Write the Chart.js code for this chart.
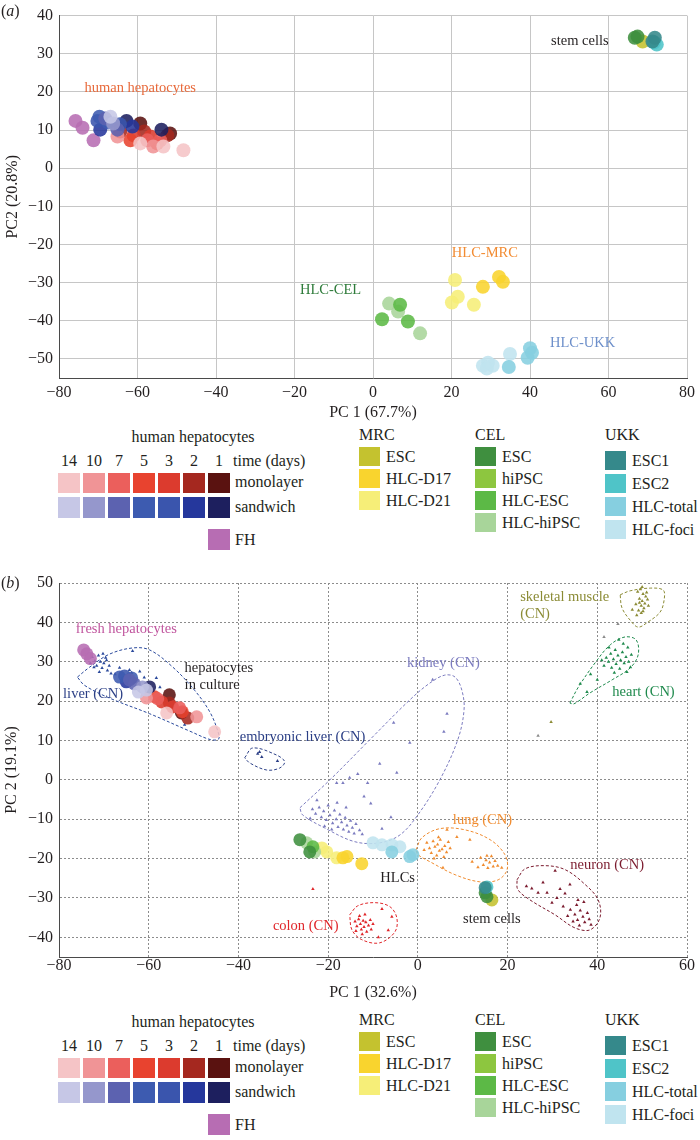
<!DOCTYPE html>
<html><head><meta charset="utf-8">
<script src="https://cdn.jsdelivr.net/npm/chart.js@4.4.0/dist/chart.umd.min.js"></script>
<style>
html,body{margin:0;padding:0;background:#fff;}
#wrap{position:relative;width:700px;height:1140px;overflow:hidden;font-family:"Liberation Serif","Times New Roman",serif;color:#231f20;}
.cv{position:absolute;left:0;}
.t{position:absolute;font-size:16px;line-height:16px;white-space:nowrap;}
.sw{position:absolute;}
</style></head><body><div id="wrap">
<div class="cv" style="top:0px"><canvas id="ca" width="700" height="422"></canvas></div>
<div class="cv" style="top:565px"><canvas id="cb" width="700" height="437"></canvas></div>
</div>
<script>
// ---------------- legend categories ----------------
const dayLabels = ['14','10','7','5','3','2','1'];
const monoColors = ['#f5c4c6','#f09496','#eb5f5c','#e8432f','#dc3b2e','#a5281f','#5a1210'];
const sandColors = ['#c6c7e6','#9597cc','#5c62b0','#3d5bb0','#3a55ad','#25379c','#1d1f5e'];
const fhColor = '#b76db3';
const mrcLabels = ['ESC','HLC-D17','HLC-D21'];
const mrcColors = ['#c4c22f','#f9d42e','#f6ee78'];
const celLabels = ['ESC','hiPSC','HLC-ESC','HLC-hiPSC'];
const celColors = ['#3f8f3f','#8dc63f','#5cb946','#a8d59a'];
const ukkLabels = ['ESC1','ESC2','HLC-total','HLC-foci'];
const ukkColors = ['#35898b','#4fc4c8','#86cfe0','#c0e4ef'];

// ---------------- panel (a) values ----------------
const a_FH = [[-75.8,12.4],[-74.0,10.6],[-71.2,7.3]];
const a_mono = [ // days 14,10,7,5,3,2,1
  [[-59.3,6.5],[-53.4,5.7],[-48.3,4.7]],
  [[-65.1,8.3],[-56.0,5.7]],
  [[-57.5,7.3],[-54.2,7.3]],
  [[-61.8,7.3],[-55.0,6.5]],
  [[-56.7,8.3],[-61.0,8.6]],
  [[-58.3,9.6],[-64.4,9.6],[-52.4,8.6]],
  [[-59.3,11.7],[-51.7,9.1]]
];
const a_sand = [
  [[-66.9,13.5]],
  [[-66.2,11.7]],
  [[-68.2,13.0],[-65.1,10.1]],
  [[-69.7,13.5],[-67.5,12.0]],
  [[-70.2,12.4],[-64.5,11.5]],
  [[-69.5,10.1],[-61.3,10.9]],
  [[-62.8,12.4],[-53.9,10.1]]
];
const a_mrc = [
  [[68.7,33.2]],
  [[28.0,-31.1],[32.1,-28.5],[33.1,-29.8]],
  [[20.9,-29.3],[21.6,-33.7],[20.1,-35.2],[25.7,-35.8]]
];
const a_cel = [
  [[66.7,34.2],[67.4,34.5]],
  [],
  [[6.9,-35.8],[2.3,-39.6],[8.9,-40.2]],
  [[4.1,-35.5],[6.4,-37.6],[12.0,-43.3]]
];
const a_ukk = [
  [[71.8,34.2],[71.2,33.2]],
  [[72.3,32.4],[71.6,33.0]],
  [[34.6,-52.1],[40.0,-47.2],[39.4,-49.7],[40.5,-48.4]],
  [[29.3,-51.0],[30.5,-51.8],[28.0,-51.8],[34.9,-48.7],[29.0,-52.5]]
];

// ---------------- panel (b) values ----------------
const b_FH = [[-74.5,33.0],[-73.8,32.0],[-73.0,30.8]];
const b_mono = [
  [[-56.0,17.0],[-45.3,12.2]],
  [[-60.5,20.8],[-49.3,16.0]],
  [[-53.1,18.3],[-58.0,20.6]],
  [[-58.7,21.1],[-52.5,17.3]],
  [[-57.1,19.8],[-54.7,18.5]],
  [[-55.4,19.5],[-51.3,15.7]],
  [[-55.4,21.6],[-52.7,17.0]]
];
const b_sand = [
  [[-62.3,22.3],[-60.5,22.8]],
  [[-61.4,23.6]],
  [[-64.3,25.4],[-63.2,24.4]],
  [[-66.5,26.1],[-63.8,25.9]],
  [[-65.4,26.4]],
  [[-65.0,24.9]],
  [[-59.8,23.6]]
];
const b_mrc = [
  [[16.5,-30.5]],
  [[-15.8,-19.5],[-12.5,-21.3],[-16.7,-19.8]],
  [[-21.4,-17.3],[-20.3,-18.3],[-18.1,-19.8]]
];
const b_cel = [
  [[-26.3,-15.2],[-24.1,-18.3],[15.0,-28.7],[15.4,-29.7]],
  [],
  [[-23.4,-17.0]],
  [[-24.8,-16.0],[-23.0,-18.3]]
];
const b_ukk = [
  [[15.0,-27.4]],
  [[15.4,-27.2]],
  [[-5.8,-18.3],[-1.8,-19.5],[-1.1,-19.0]],
  [[-10.0,-16.0],[-8.0,-16.5],[-5.8,-16.5],[-4.0,-17.0]]
];

// CN reference samples (small triangles)
const cnLiver = [[-72.6,31.2],[-72.0,30.2],[-71.6,29.0],[-71.2,31.6],[-70.8,30.0],[-70.4,28.4],[-70.0,29.6],[-69.6,31.0],[-69.2,27.8],[-68.8,29.0],[-71.0,27.4],[-72.2,28.6],[-70.2,32.0],[-69.4,30.4],[-68.4,27.0],[-73.0,29.6],[-64.3,27.9],[-63.8,27.2],[-63.6,32.7],[-58.3,25.9],[-52.0,14.0],[-62.0,27.5],[-61.0,26.0],[-66.5,28.5],[-67.5,26.8],[-57.5,23.5]];
const cnEmbLiver = [[-35.3,7.1],[-35.7,6.6],[-34.8,5.8],[-31.3,4.8]];
const cnKidney = [[-23.5,-7.5],[-22.8,-8.6],[-22.0,-7.0],[-21.5,-9.5],[-21.0,-8.0],[-20.4,-10.2],[-20.0,-6.5],[-19.6,-9.0],[-19.0,-11.0],[-18.6,-7.8],[-18.2,-10.0],[-17.8,-12.0],[-17.4,-8.8],[-17.0,-10.8],[-16.6,-12.6],[-16.2,-9.6],[-15.8,-11.6],[-15.4,-13.2],[-15.0,-10.4],[-14.6,-12.2],[-14.2,-13.6],[-13.8,-11.2],[-13.0,-12.8],[-12.4,-13.8],[-22.5,-5.2],[-24.0,-9.8],[-18.0,-5.8],[-16.0,-7.0],[-20.8,-11.8],[-19.2,-12.6],[-18.1,-0.8],[-16.7,-0.8],[-15.2,0.5],[-13.4,1.5],[-11.2,-0.8],[-8.5,4.1],[-4.7,1.8],[-1.8,9.4],[-5.4,14.5],[3.3,25.4],[6.5,16.8],[5.8,12.2],[-8.0,-12.4],[-10.5,-6.0],[-12.0,-4.2],[-6.0,-9.5]];
const cnHeart = [[41.5,29.0],[42.0,31.0],[42.5,30.0],[43.0,32.0],[43.2,28.5],[43.6,30.6],[44.0,33.0],[44.2,29.4],[44.6,31.6],[45.0,28.2],[45.2,30.4],[45.6,32.4],[46.0,29.6],[46.4,31.2],[46.8,33.6],[47.0,30.0],[47.4,28.6],[43.8,27.2],[42.6,33.6],[45.8,34.6],[46.6,27.4],[41.0,30.4],[44.8,35.6],[47.6,31.8],[36.2,24.4],[37.7,22.3],[40.0,25.4],[38.5,26.8]];
const cnMuscle = [[49.0,47.8],[49.6,48.4],[50.2,47.2],[50.8,46.6],[49.4,46.0],[50.0,45.4],[50.6,44.8],[51.2,45.8],[49.8,44.2],[50.4,43.6],[49.2,43.0],[49.8,42.4],[48.8,41.8],[50.2,42.8],[51.0,47.6],[48.6,44.6],[47.8,43.2],[50.0,49.0],[51.4,44.2],[49.4,45.0],[29.7,14.7]];
const cnLung = [[2.0,-16.0],[2.6,-17.4],[3.0,-18.6],[3.4,-15.6],[3.8,-17.0],[4.2,-19.2],[4.4,-16.4],[4.8,-18.0],[5.0,-15.2],[5.4,-17.6],[5.8,-19.6],[6.0,-16.8],[6.4,-18.4],[6.8,-15.8],[7.2,-17.4],[3.6,-20.0],[1.4,-17.8],[4.6,-14.6],[6.5,-12.7],[8.7,-14.5],[11.6,-15.2],[5.6,-22.3],[12.1,-20.8],[14.0,-19.8],[14.6,-21.6],[15.2,-20.4],[15.6,-22.4],[16.0,-21.0],[16.4,-19.4],[16.8,-22.0],[17.2,-20.6],[17.8,-21.8],[18.7,-22.3],[15.4,-19.3],[13.4,-22.2]];
const cnColon = [[-14.0,-36.0],[-13.6,-37.2],[-13.2,-35.4],[-12.8,-36.6],[-12.6,-38.0],[-12.2,-35.8],[-12.0,-37.4],[-11.6,-36.2],[-11.4,-38.6],[-11.0,-37.0],[-10.6,-35.6],[-10.4,-38.0],[-13.0,-34.6],[-12.4,-39.2],[-11.8,-34.2],[-13.8,-38.4],[-10.0,-36.6],[-8.0,-32.8],[-5.8,-34.8],[-6.6,-38.2],[-8.8,-40.0],[-23.4,-27.7]];
const cnNeuron = [[27.9,-26.1],[26.8,-28.7],[28.8,-28.7],[31.7,-27.7],[33.9,-26.6],[30.6,-23.1],[32.8,-28.9],[29.9,-31.2],[32.4,-32.2],[35.7,-30.5],[34.0,-33.0],[35.0,-34.2],[35.6,-35.6],[36.2,-33.2],[36.8,-34.8],[37.2,-36.2],[37.8,-33.8],[38.2,-35.4],[36.0,-37.0],[34.6,-36.0],[35.4,-31.8],[33.4,-34.6],[38.6,-36.8],[37.0,-31.0],[31.0,-30.0],[25.4,-27.6],[24.2,-27.0]];
const cnOther = [[26.8,11.2],[41.5,36.3],[44.6,39.6]];

// CN group outlines
const hullLiver = [[-75.9,26.1],[-73.2,28.6],[-68.8,31.9],[-63.6,33.5],[-59.8,33.0],[-54.7,28.7],[-49.8,22.8],[-46.4,17.3],[-44.6,12.4],[-44.4,10.4],[-46.2,10.2],[-50.9,12.4],[-59.8,16.8],[-68.8,20.8],[-74.3,24.0],[-75.9,26.1]];
const hullEmb = [[-38.6,5.6],[-36.8,8.1],[-31.5,6.3],[-29.7,4.6],[-30.8,3.0],[-33.7,2.5],[-37.5,4.3],[-38.6,5.6]];
const hullKidney = [[-26.3,-7.1],[-19.6,0],[-10.7,10.2],[-1.8,20.3],[2.7,24.6],[6.0,26.6],[8.3,26.1],[9.8,22.8],[10.3,17.8],[8.9,10.2],[4.9,0],[0,-8.9],[-4.0,-14.0],[-8.5,-16.0],[-14.1,-15.7],[-20.8,-12.2],[-25.7,-8.9],[-26.3,-7.1]];
const hullHeart = [[33.9,19.5],[35.7,23.4],[39.5,29.7],[42.9,34.3],[46.2,36.3],[48.7,35.5],[49.1,31.7],[47.3,28.4],[43.3,25.4],[38.4,22.1],[34.8,19.3],[33.9,19.5]];
const hullMuscle = [[45.1,47.0],[47.3,48.0],[51.8,48.7],[54.7,48.2],[54.9,45.7],[54.0,42.6],[51.3,40.1],[49.1,38.8],[47.3,40.6],[45.5,43.7],[45.1,47.0]];
const hullLung = [[-0.4,-17.8],[0.9,-14.7],[4.9,-12.4],[10.5,-12.7],[16.1,-15.2],[19.4,-19.0],[19.9,-22.8],[17.9,-25.4],[13.8,-25.9],[8.3,-24.1],[2.7,-20.8],[0,-19.0],[-0.4,-17.8]];
const hullColon = [[-15.2,-34.3],[-13.4,-32.0],[-9.6,-31.2],[-6.25,-32.2],[-4.7,-35.0],[-5.1,-38.6],[-8.5,-41.4],[-12.5,-40.6],[-14.7,-38.1],[-15.2,-34.3]];
const hullNeuron = [[22.1,-25.4],[23.9,-22.6],[28.3,-21.8],[32.8,-22.8],[37.3,-26.6],[40.2,-30.5],[40.6,-35.0],[38.4,-38.1],[35.0,-37.6],[30.6,-34.3],[25.0,-30.5],[22.3,-27.9],[22.1,-25.4]];

// ---------------- helpers ----------------
const F = '"Liberation Serif","Times New Roman",serif';
const INK = '#231f20';
const P = arr => arr.map(p => ({x:p[0], y:p[1]}));
function alpha(hex, a){const n=parseInt(hex.slice(1),16);return `rgba(${n>>16&255},${n>>8&255},${n&255},${a})`;}
const fmt = v => v < 0 ? '\u2212' + (-v) : '' + v;

function bigDs(arr, col, r){return {data:P(arr), backgroundColor:alpha(col,0.88), borderWidth:0, pointRadius:r, pointHoverRadius:r};}
function triDs(arr, col){return {data:P(arr), backgroundColor:col, borderColor:col, borderWidth:0, pointStyle:'triangle', pointRadius:2, pointHoverRadius:2};}
function hullDs(arr, col){return {data:P(arr), showLine:true, borderColor:col, borderWidth:1, borderDash:[3,2], pointRadius:0, pointHoverRadius:0, tension:0.35, fill:false};}

function bigSets(FH, mono, sand, mrc, cel, ukk, r){
  const ds=[];
  ukk.forEach((a,i)=>ds.push(bigDs(a,ukkColors[i],r)));
  cel.forEach((a,i)=>ds.push(bigDs(a,celColors[i],r)));
  mrc.forEach((a,i)=>ds.push(bigDs(a,mrcColors[i],r)));
  sand.forEach((a,i)=>ds.push(bigDs(a,sandColors[i],r)));
  mono.forEach((a,i)=>ds.push(bigDs(a,monoColors[i],r)));
  ds.push(bigDs(FH,fhColor,r));
  return ds;
}

const annoPlugin = {
  id:'anno',
  afterDatasetsDraw(chart, args, opts){
    const ctx=chart.ctx, xs=chart.scales.x, ys=chart.scales.y;
    ctx.save();
    for(const a of opts.items){
      ctx.font = '14.5px ' + F;
      ctx.fillStyle = a.color;
      ctx.textAlign = a.align || 'center';
      ctx.textBaseline = 'middle';
      ctx.fillText(a.text, xs.getPixelForValue(a.x), ys.getPixelForValue(a.y));
    }
    ctx.restore();
  }
};

function scaleOpts(o){
  return {
    x:{type:'linear', min:o.xmin, max:o.xmax,
       ticks:{stepSize:20, padding:o.xpad, font:{family:F,size:16}, color:INK, callback:fmt, includeBounds:false, maxRotation:0},
       grid:{color:o.gridColor, lineWidth:1, drawTicks:false},
       border:{color:'#4a4a4a', width:1, dash:o.dash},
       title:{display:true, text:o.xtitle, font:{family:F,size:16}, color:INK, padding:0},
       afterFit:s=>{s.height=o.xh;}},
    y:{type:'linear', min:o.ymin, max:o.ymax,
       ticks:{stepSize:10, padding:6, font:{family:F,size:16}, color:INK, callback:fmt, includeBounds:false},
       grid:{color:o.gridColor, lineWidth:1, drawTicks:false},
       border:{color:'#4a4a4a', width:1, dash:o.dash},
       title:{display:true, text:o.ytitle, font:{family:F,size:16}, color:INK, padding:0},
       afterFit:s=>{s.width=o.yw;}}
  };
}

// ---------------- chart (a) ----------------
new Chart(document.getElementById('ca'), {
  type:'scatter',
  data:{datasets: bigSets(a_FH,a_mono,a_sand,a_mrc,a_cel,a_ukk,7)},
  options:{
    responsive:false, animation:false, devicePixelRatio:1,
    layout:{padding:{left:3,right:12,top:11,bottom:0}},
    scales: scaleOpts({xmin:-80,xmax:80,ymin:-55,ymax:40,xpad:5,gridColor:'#c6c6c6',dash:[],xtitle:'PC 1 (67.7%)',ytitle:'PC2 (20.8%)',xh:44,yw:56}),
    plugins:{legend:{display:false}, tooltip:{enabled:false},
      anno:{items:[
        {text:'human hepatocytes', x:-59.3, y:21.0, color:'#e8693a'},
        {text:'stem cells', x:52.7, y:33.4, color:INK},
        {text:'HLC-MRC', x:28.5, y:-22.3, color:'#f28c33'},
        {text:'HLC-CEL', x:-10.8, y:-31.9, color:'#2e7b3a'},
        {text:'HLC-UKK', x:53.4, y:-45.9, color:'#6d8fca'}
      ]}}
  },
  plugins:[annoPlugin]
});

// ---------------- chart (b) ----------------
const bSets = bigSets(b_FH,b_mono,b_sand,b_mrc,b_cel,b_ukk,6.5)
  .concat([
    triDs(cnLiver,'#2b4a9c'), triDs(cnEmbLiver,'#2b3f86'), triDs(cnKidney,'#7b7bbf'),
    triDs(cnHeart,'#1f8a4d'), triDs(cnMuscle,'#8b8b35'), triDs(cnLung,'#f08c30'),
    triDs(cnColon,'#e0262a'), triDs(cnNeuron,'#7b1b2e'), triDs(cnOther,'#8a8a8a'),
    hullDs(hullLiver,'#2b4a9c'), hullDs(hullEmb,'#2b3f86'), hullDs(hullKidney,'#7b7bbf'),
    hullDs(hullHeart,'#1f8a4d'), hullDs(hullMuscle,'#8b8b35'), hullDs(hullLung,'#f08c30'),
    hullDs(hullColon,'#e0262a'), hullDs(hullNeuron,'#7b1b2e')
  ]);
new Chart(document.getElementById('cb'), {
  type:'scatter',
  data:{datasets:bSets},
  options:{
    responsive:false, animation:false, devicePixelRatio:1,
    layout:{padding:{left:2,right:13,top:18,bottom:0}},
    scales: scaleOpts({xmin:-80,xmax:60,ymin:-45,ymax:50,xpad:-1,gridColor:'#8c8c8c',dash:[2,2],xtitle:'PC 1 (32.6%)',ytitle:'PC 2 (19.1%)',xh:45,yw:57}),
    plugins:{legend:{display:false}, tooltip:{enabled:false},
      anno:{items:[
        {text:'fresh hepatocytes', x:-65, y:38.3, color:'#c0559e'},
        {text:'hepatocytes', x:-52, y:28.4, color:INK, align:'left'},
        {text:'in culture', x:-52, y:24.0, color:INK, align:'left'},
        {text:'liver (CN)', x:-72.4, y:21.8, color:'#2b3f86'},
        {text:'embryonic liver (CN)', x:-25.7, y:10.9, color:'#2b3f86'},
        {text:'kidney (CN)', x:5.7, y:29.7, color:'#7b7bbf'},
        {text:'skeletal muscle', x:22.8, y:46.4, color:'#8b8b35', align:'left'},
        {text:'(CN)', x:22.8, y:42.1, color:'#8b8b35', align:'left'},
        {text:'heart (CN)', x:50.3, y:22.3, color:'#1f8a4d'},
        {text:'lung (CN)', x:14.4, y:-10.3, color:'#f08c30'},
        {text:'HLCs', x:-4.5, y:-24.9, color:INK},
        {text:'stem cells', x:16.5, y:-35.5, color:INK},
        {text:'neuron (CN)', x:42.2, y:-21.6, color:'#7b1b2e'},
        {text:'colon (CN)', x:-25.0, y:-37.3, color:'#e0262a'}
      ]}}
  },
  plugins:[annoPlugin]
});

// ---------------- HTML legends ----------------
const wrap = document.getElementById('wrap');
function txt(s, x, y, align, html){
  const d=document.createElement('div'); d.className='t';
  if(html) d.innerHTML=s; else d.textContent=s;
  d.style.top=(y-8)+'px';
  if(align==='center'){d.style.left=x+'px'; d.style.transform='translateX(-50%)';}
  else d.style.left=x+'px';
  wrap.appendChild(d);
}
function sw(x,y,w,h,c){
  const d=document.createElement('div'); d.className='sw';
  Object.assign(d.style,{left:x+'px',top:y+'px',width:w+'px',height:h+'px',background:c});
  wrap.appendChild(d);
}
function legend(dy){
  txt('human hepatocytes',193,437+dy,'center');
  dayLabels.forEach((d,i)=>{
    const x=58+i*25;
    txt(d,x+11,461+dy,'center');
    sw(x,473+dy,22,20,monoColors[i]);
    sw(x,497+dy,22,21,sandColors[i]);
  });
  txt('time (days)',233,461+dy);
  txt('monolayer',235,482+dy);
  txt('sandwich',235,507+dy);
  sw(208,529+dy,22,21,fhColor);
  txt('FH',235,540+dy);
  txt('MRC',359,435+dy);
  mrcLabels.forEach((l,i)=>{const y=447+i*22+dy; sw(359,y,21,19,mrcColors[i]); txt(l,386,y+10);});
  txt('CEL',475,435+dy);
  celLabels.forEach((l,i)=>{const y=447+i*22+dy; sw(475,y,21,19,celColors[i]); txt(l,502,y+10);});
  txt('UKK',605,435+dy);
  ukkLabels.forEach((l,i)=>{const y=451+i*23+dy; sw(605,y,21,19,ukkColors[i]); txt(l,632,y+10);});
}
legend(0);
legend(585);
txt('(<i>a</i>)',1,11,'left',true);
txt('(<i>b</i>)',1,583,'left',true);
</script>
</body></html>
